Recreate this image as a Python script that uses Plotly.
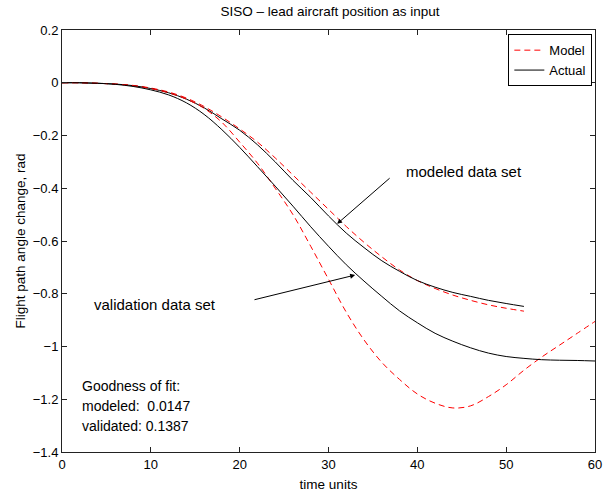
import plotly.graph_objects as go

# time samples
t_mod = [0, 2, 4, 6, 8, 10, 12, 14, 16, 18, 20, 22, 24, 26, 28, 30, 32, 34, 36, 38, 40, 42, 44, 46, 48, 50, 52]
t_val = [0, 2, 4, 6, 8, 10, 12, 14, 16, 18, 20, 22, 24, 26, 28, 30, 32, 34, 36, 38, 40, 42, 44, 46, 48, 50, 52, 54, 56, 58, 60]

# modeled data set
mod_model = [0, 0, -0.002, -0.005, -0.010, -0.020, -0.035, -0.058, -0.090, -0.130, -0.175, -0.225, -0.285,
             -0.350, -0.415, -0.480, -0.545, -0.605, -0.660, -0.710, -0.750, -0.780, -0.805, -0.825, -0.842,
             -0.855, -0.866]
mod_actual = [0, 0, -0.002, -0.005, -0.011, -0.022, -0.038, -0.062, -0.095, -0.137, -0.180, -0.235, -0.300,
              -0.370, -0.435, -0.505, -0.570, -0.625, -0.675, -0.715, -0.750, -0.775, -0.795, -0.810, -0.825,
              -0.837, -0.848]

# validation data set
val_model = [0, 0, -0.002, -0.005, -0.011, -0.022, -0.038, -0.062, -0.097, -0.150, -0.225, -0.305, -0.400,
             -0.500, -0.620, -0.745, -0.870, -0.975, -1.060, -1.125, -1.180, -1.215, -1.233, -1.225, -1.190,
             -1.145, -1.090, -1.040, -0.995, -0.950, -0.905]
val_actual = [0, 0, -0.002, -0.006, -0.014, -0.027, -0.046, -0.076, -0.120, -0.178, -0.245, -0.318, -0.392,
              -0.468, -0.546, -0.620, -0.690, -0.752, -0.810, -0.865, -0.910, -0.950, -0.980, -1.005, -1.025,
              -1.038, -1.045, -1.050, -1.052, -1.053, -1.055]

x_ticks = [0, 10, 20, 30, 40, 50, 60]
y_ticks = [0.2, 0, -0.2, -0.4, -0.6, -0.8, -1.0, -1.2, -1.4]
y_tick_text = ["0.2", "0", "\u22120.2", "\u22120.4", "\u22120.6", "\u22120.8", "\u22121", "\u22121.2", "\u22121.4"]

FONT = "Liberation Sans, Arial, Helvetica, sans-serif"
RED = "#ff0000"
BLACK = "#000000"
dash = "6px,4px"

fig = go.Figure()
fig.add_trace(go.Scatter(x=t_mod, y=mod_model, mode="lines", name="Model",
                         line=dict(color=RED, width=1, dash=dash), line_shape="spline"))
fig.add_trace(go.Scatter(x=t_mod, y=mod_actual, mode="lines", name="Actual",
                         line=dict(color=BLACK, width=1), line_shape="spline"))
fig.add_trace(go.Scatter(x=t_val, y=val_model, mode="lines", name="Model", showlegend=False,
                         line=dict(color=RED, width=1, dash=dash), line_shape="spline"))
fig.add_trace(go.Scatter(x=t_val, y=val_actual, mode="lines", name="Actual", showlegend=False,
                         line=dict(color=BLACK, width=1), line_shape="spline"))

axis_common = dict(showgrid=False, zeroline=False, showline=True, linecolor="#222222", linewidth=1,
                   mirror="ticks", ticks="inside", ticklen=5, tickcolor="#222222", tickwidth=1,
                   tickfont=dict(family=FONT, size=13, color=BLACK), automargin=False)

fig.update_xaxes(range=[0, 60], tickvals=x_ticks, ticktext=[str(v) for v in x_ticks],
                 title=dict(text="time units", font=dict(family=FONT, size=13.5, color=BLACK), standoff=8),
                 **axis_common)
fig.update_yaxes(range=[-1.4, 0.2], tickvals=y_ticks, ticktext=y_tick_text,
                 title=dict(text="Flight path angle change, rad", font=dict(family=FONT, size=13.5, color=BLACK),
                            standoff=4),
                 **axis_common)

# annotations
fig.add_annotation(x=45.2, y=-0.338, text="modeled data set", showarrow=False,
                   font=dict(family=FONT, size=15, color=BLACK))
fig.add_annotation(x=30.97, y=-0.535, ax=37.05, ay=-0.357, axref="x", ayref="y", text="",
                   showarrow=True, arrowhead=2, arrowsize=1, arrowwidth=1, arrowcolor=BLACK)
fig.add_annotation(x=10.5, y=-0.839, text="validation data set", showarrow=False,
                   font=dict(family=FONT, size=15, color=BLACK))
fig.add_annotation(x=33.0, y=-0.729, ax=21.5, ay=-0.824, axref="x", ayref="y", text="",
                   showarrow=True, arrowhead=2, arrowsize=1, arrowwidth=1, arrowcolor=BLACK)

gof_lines = ["Goodness of fit:", "modeled:  0.0147", "validated: 0.1387"]
gof_y = [-1.148, -1.224, -1.300]
for txt, yy in zip(gof_lines, gof_y):
    fig.add_annotation(x=2.0, y=yy, text=txt, showarrow=False, xanchor="left",
                       font=dict(family=FONT, size=14, color=BLACK))

fig.update_layout(
    width=609, height=493,
    margin=dict(l=62, r=14, t=30, b=41),
    paper_bgcolor="white", plot_bgcolor="white",
    title=dict(text="SISO \u2013 lead aircraft position as input", x=0.542, xanchor="center",
               y=1 - 11 / 493, yanchor="middle", font=dict(family=FONT, size=13.5, color=BLACK)),
    legend=dict(x=0.995, y=0.99, xanchor="right", yanchor="top", bordercolor=BLACK, borderwidth=1,
                bgcolor="white", font=dict(family=FONT, size=13, color=BLACK),
                tracegroupgap=0, itemwidth=30),
    showlegend=True,
)

fig.write_html("out.html")
